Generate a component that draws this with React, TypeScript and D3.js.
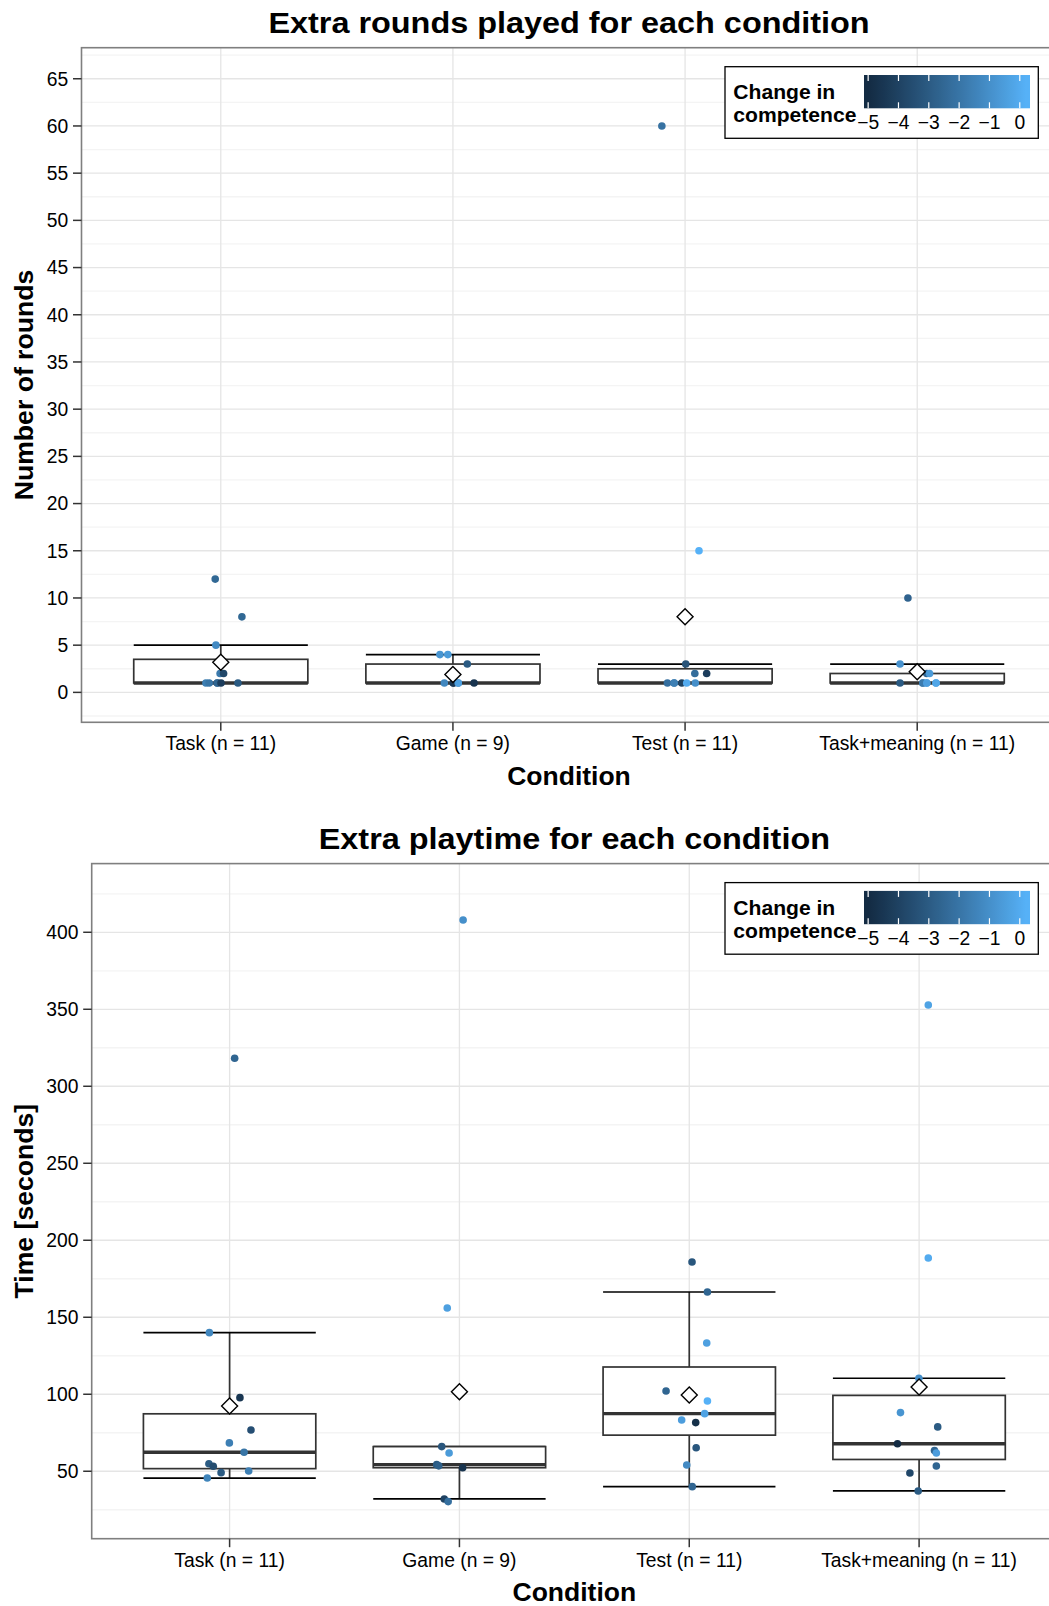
import React from "react";
import * as d3 from "d3";

// ---------- data ----------
const categories = ["Task (n = 11)", "Game (n = 9)", "Test (n = 11)", "Task+meaning (n = 11)"];

// Extra rounds played
const roundsTask = [12, 8, 5, 2, 2, 1, 1, 1, 1, 1, 1];
const roundsTaskCompetence = [-2.5, -2.5, -1.2, -1.8, -3.8, -2.4, -1.6, -2.0, -2.6, -4.2, -3.0];
const roundsTaskJitter = [-0.024, 0.091, -0.021, -0.003, 0.012, -0.015, -0.064, -0.05, -0.015, 0.001, 0.074];

const roundsGame = [4, 4, 3, 1, 1, 1, 1, 1, 1];
const roundsGameCompetence = [-0.8, -0.6, -3.0, -3.5, -2.0, -1.3, -4.5, -0.4, -4.6];
const roundsGameJitter = [-0.056, -0.022, 0.062, 0.002, 0.023, -0.037, 0.002, 0.023, 0.091];

const roundsTest = [60, 15, 3, 2, 2, 1, 1, 1, 1, 1, 1];
const roundsTestCompetence = [-2.1, 0.2, -3.3, -2.3, -4.2, -2.0, -2.2, -1.6, -4.0, 0.0, -1.0];
const roundsTestJitter = [-0.1, 0.06, 0.003, 0.042, 0.093, -0.047, -0.076, -0.047, -0.014, 0.007, 0.044];

const roundsMeaning = [10, 3, 2, 2, 1, 1, 1, 1, 1, 1, 1];
const roundsMeaningCompetence = [-2.7, -0.9, -2.6, -0.6, -1.8, -0.5, -0.2, -3.0, -1.8, -0.5, -0.2];
const roundsMeaningJitter = [-0.04, -0.074, 0.041, 0.053, 0.024, 0.041, 0.081, -0.074, 0.024, 0.041, 0.081];

// Extra playtime [seconds]
const timeTask = [318.2, 140, 97.8, 76.8, 68.4, 62.3, 54.9, 53.2, 49.1, 50.2, 45.6];
const timeTaskCompetence = [-2.6, -1.3, -4.5, -3.5, -1.6, -2.0, -3.0, -3.6, -3.0, -1.6, -1.4];
const timeTaskJitter = [0.022, -0.088, 0.045, 0.093, -0.001, 0.063, -0.09, -0.071, -0.037, 0.083, -0.097];

const timeGame = [408, 156, 66, 61.9, 54.3, 53.5, 52.3, 32, 30.3];
const timeGameCompetence = [-1.0, -0.4, -3.2, -0.6, -3.0, -2.8, -4.6, -4.0, -2.2];
const timeGameJitter = [0.016, -0.053, -0.077, -0.045, -0.099, -0.09, 0.014, -0.066, -0.049];

const timeTest = [185.9, 166.4, 133.3, 102.1, 95.6, 87.4, 83.3, 81.6, 65.3, 54.1, 40.0];
const timeTestCompetence = [-3.2, -2.6, -0.4, -2.6, 0.2, -0.3, -0.5, -4.8, -3.2, -1.2, -2.6];
const timeTestJitter = [0.012, 0.079, 0.076, -0.101, 0.079, 0.067, -0.033, 0.028, 0.03, -0.011, 0.013];

const timeMeaning = [352.8, 188.5, 110.4, 88.1, 78.8, 67.9, 63.4, 61.9, 53.4, 48.9, 37.2];
const timeMeaningCompetence = [-0.3, 0.0, -1.0, -0.8, -3.0, -5.0, -2.6, -0.5, -2.6, -3.8, -3.0];
const timeMeaningJitter = [0.04, 0.04, -0.001, -0.081, 0.081, -0.094, 0.067, 0.075, 0.075, -0.04, -0.004];

const roundsTicks = [0, 5, 10, 15, 20, 25, 30, 35, 40, 45, 50, 55, 60, 65];
const timeTicks = [50, 100, 150, 200, 250, 300, 350, 400];
const legendTicks = [-5, -4, -3, -2, -1, 0];
const colorLimits = [-5, 0.2];

// ---------- styling ----------
const FONT = "'Liberation Sans', Arial, Helvetica, sans-serif";
const lowColor = "#132B43";
const highColor = "#56B1F7";
const TICK_FS = 19.3;

const colorScale = d3
  .scaleLinear<string>()
  .domain(colorLimits)
  .range([lowColor, highColor])
  .interpolate(d3.interpolateLab)
  .clamp(true);

function makeGroups(vals: number[][], comps: number[][], jits: number[][]) {
  return vals.map((v, i) => ({ values: v, competence: comps[i], jitter: jits[i] }));
}

const roundsGroups = makeGroups(
  [roundsTask, roundsGame, roundsTest, roundsMeaning],
  [roundsTaskCompetence, roundsGameCompetence, roundsTestCompetence, roundsMeaningCompetence],
  [roundsTaskJitter, roundsGameJitter, roundsTestJitter, roundsMeaningJitter]
);
const timeGroups = makeGroups(
  [timeTask, timeGame, timeTest, timeMeaning],
  [timeTaskCompetence, timeGameCompetence, timeTestCompetence, timeMeaningCompetence],
  [timeTaskJitter, timeGameJitter, timeTestJitter, timeMeaningJitter]
);

function boxStats(values: number[]) {
  const s = values.slice().sort(d3.ascending);
  const q1 = d3.quantile(s, 0.25)!;
  const med = d3.quantile(s, 0.5)!;
  const q3 = d3.quantile(s, 0.75)!;
  const iqr = q3 - q1;
  const lo = d3.min(s.filter((v) => v >= q1 - 1.5 * iqr))!;
  const hi = d3.max(s.filter((v) => v <= q3 + 1.5 * iqr))!;
  return { q1, med, q3, lo, hi, mean: d3.mean(s)! };
}

type PanelCfg = {
  id: string;
  left: number;
  right: number;
  top: number;
  bottom: number;
  yDomain: [number, number];
  yTicks: number[];
  minorStep: number;
  groups: { values: number[]; competence: number[]; jitter: number[] }[];
  title: string;
  yLabel: string;
};

function Legend({ left, top, id }: { left: number; top: number; id: string }) {
  const barL = left + 139;
  const barR = left + 305;
  const nbin = 20;
  const half = ((barR - barL) / nbin) * 0.5;
  const bx = d3.scaleLinear().domain(colorLimits).range([barL + half, barR - half]);
  const barTop = top + 8.3;
  const barBot = top + 41.6;
  const stops = d3.range(0, 41).map((i) => {
    const t = i / 40;
    const px = barL + t * (barR - barL);
    return { offset: t, color: colorScale(bx.invert(px)) };
  });
  return (
    <g>
      <defs>
        <linearGradient id={`grad-${id}`} x1="0" x2="1" y1="0" y2="0">
          {stops.map((s, i) => (
            <stop key={i} offset={s.offset} stopColor={s.color} />
          ))}
        </linearGradient>
      </defs>
      <rect x={left} y={top} width={313.3} height={71.6} fill="white" stroke="black" strokeWidth={1.3} />
      <text x={left + 8.3} y={top + 32.6} fontFamily={FONT} fontWeight="bold" fontSize={21.1} fill="black">
        Change in
      </text>
      <text x={left + 8.3} y={top + 55} fontFamily={FONT} fontWeight="bold" fontSize={21.1} fill="black">
        competence
      </text>
      <rect x={barL} y={barTop} width={barR - barL} height={barBot - barTop} fill={`url(#grad-${id})`} />
      {legendTicks.map((t) => (
        <g key={t}>
          <line x1={bx(t)} x2={bx(t)} y1={barTop} y2={barTop + 6} stroke="white" strokeWidth={1.2} />
          <line x1={bx(t)} x2={bx(t)} y1={barBot - 6} y2={barBot} stroke="white" strokeWidth={1.2} />
          <text x={bx(t)} y={top + 62.6} textAnchor="middle" fontFamily={FONT} fontSize={TICK_FS} fill="black">
            {t < 0 ? `\u2212${Math.abs(t)}` : `${t}`}
          </text>
        </g>
      ))}
    </g>
  );
}

function Panel({ cfg }: { cfg: PanelCfg }) {
  const { left, right, top, bottom, yDomain, yTicks, minorStep, groups, title, yLabel, id } = cfg;
  const x = d3.scaleLinear().domain([0.4, 4.6]).range([left, right]);
  const y = d3.scaleLinear().domain(yDomain).range([bottom, top]);
  const bw = 0.75;
  const minor = d3
    .range(yTicks[0] - minorStep * 0.5 - minorStep * 2, yDomain[1], minorStep)
    .filter((v) => v > yDomain[0] && v < yDomain[1] && !yTicks.includes(v));
  const cx = (left + right) / 2;
  const cy = (top + bottom) / 2;
  return (
    <g>
      {/* panel background and grid */}
      <rect x={left} y={top} width={right - left} height={bottom - top} fill="white" />
      {minor.map((v) => (
        <line key={`mn${v}`} x1={left} x2={right} y1={y(v)} y2={y(v)} stroke="#f4f4f4" strokeWidth={1.3} />
      ))}
      {yTicks.map((v) => (
        <line key={`mj${v}`} x1={left} x2={right} y1={y(v)} y2={y(v)} stroke="#e5e5e5" strokeWidth={1.3} />
      ))}
      {categories.map((c, i) => (
        <line key={`vx${c}`} x1={x(i + 1)} x2={x(i + 1)} y1={top} y2={bottom} stroke="#e5e5e5" strokeWidth={1.3} />
      ))}

      {/* boxplots */}
      {groups.map((g, i) => {
        const s = boxStats(g.values);
        const x0 = x(i + 1 - bw / 2);
        const x1 = x(i + 1 + bw / 2);
        const xc = x(i + 1);
        return (
          <g key={`box${i}`}>
            <line x1={xc} x2={xc} y1={y(s.hi)} y2={y(s.q3)} stroke="#333" strokeWidth={1.7} />
            <line x1={xc} x2={xc} y1={y(s.q1)} y2={y(s.lo)} stroke="#333" strokeWidth={1.7} />
            <line x1={x0} x2={x1} y1={y(s.hi)} y2={y(s.hi)} stroke="black" strokeWidth={1.7} />
            <line x1={x0} x2={x1} y1={y(s.lo)} y2={y(s.lo)} stroke="black" strokeWidth={1.7} />
            <rect x={x0} y={y(s.q3)} width={x1 - x0} height={Math.max(0, y(s.q1) - y(s.q3))} fill="white" stroke="#333" strokeWidth={1.7} />
            <line x1={x0} x2={x1} y1={y(s.med)} y2={y(s.med)} stroke="#333" strokeWidth={3.4} />
          </g>
        );
      })}

      {/* jittered points */}
      {groups.map((g, i) =>
        g.values.map((v, j) => (
          <circle key={`p${i}-${j}`} cx={x(i + 1 + g.jitter[j])} cy={y(v)} r={3.8} fill={colorScale(g.competence[j])} />
        ))
      )}

      {/* means */}
      {groups.map((g, i) => {
        const m = d3.mean(g.values)!;
        const xc = x(i + 1);
        const yc = y(m);
        const h = 8;
        return (
          <path
            key={`m${i}`}
            d={`M${xc},${yc - h}L${xc + h},${yc}L${xc},${yc + h}L${xc - h},${yc}Z`}
            fill="white"
            stroke="black"
            strokeWidth={1.4}
          />
        );
      })}

      {/* panel border */}
      <rect x={left} y={top} width={right - left} height={bottom - top} fill="none" stroke="#7f7f7f" strokeWidth={1.6} />

      {/* y axis */}
      {yTicks.map((v) => (
        <g key={`yt${v}`}>
          <line x1={left - 8.5} x2={left} y1={y(v)} y2={y(v)} stroke="#333" strokeWidth={1.5} />
          <text x={left - 13.2} y={y(v)} dy="0.355em" textAnchor="end" fontFamily={FONT} fontSize={TICK_FS} fill="black">
            {v}
          </text>
        </g>
      ))}
      {/* x axis */}
      {categories.map((c, i) => (
        <g key={`xt${c}`}>
          <line x1={x(i + 1)} x2={x(i + 1)} y1={bottom} y2={bottom + 8.5} stroke="#333" strokeWidth={1.5} />
          <text x={x(i + 1)} y={bottom + 27.8} textAnchor="middle" fontFamily={FONT} fontSize={TICK_FS} fill="black">
            {c}
          </text>
        </g>
      ))}

      <text x={cx} y={bottom + 62.7} textAnchor="middle" fontFamily={FONT} fontWeight="bold" fontSize={26.5} fill="black">
        Condition
      </text>
      <text
        transform={`translate(33.3, ${cy}) rotate(-90)`}
        textAnchor="middle"
        fontFamily={FONT}
        fontWeight="bold"
        fontSize={26.6}
        fill="black"
      >
        {yLabel}
      </text>
      <text
        transform={`translate(${cx}, ${top - 14.3}) scale(1.08, 1)`}
        textAnchor="middle"
        fontFamily={FONT}
        fontWeight="bold"
        fontSize={30}
        fill="black"
      >
        {title}
      </text>

      <Legend left={725} top={top + 19} id={id} />
    </g>
  );
}

const roundsCfg: PanelCfg = {
  id: "rounds",
  left: 81.5,
  right: 1056.5,
  top: 47.7,
  bottom: 722.3,
  yDomain: [-3.17, 68.29],
  yTicks: roundsTicks,
  minorStep: 5,
  groups: roundsGroups,
  title: "Extra rounds played for each condition",
  yLabel: "Number of rounds",
};

const timeCfg: PanelCfg = {
  id: "time",
  left: 91.7,
  right: 1057,
  top: 863.6,
  bottom: 1538.7,
  yDomain: [6.2, 444.6],
  yTicks: timeTicks,
  minorStep: 50,
  groups: timeGroups,
  title: "Extra playtime for each condition",
  yLabel: "Time [seconds]",
};

export default function App() {
  return (
    <div style={{ position: "absolute", left: 0, top: 0, width: 1049, height: 1606, background: "white" }}>
      <svg width={1049} height={1606} viewBox="0 0 1049 1606" style={{ display: "block" }}>
        <rect x={0} y={0} width={1049} height={1606} fill="white" />
        <Panel cfg={roundsCfg} />
        <Panel cfg={timeCfg} />
      </svg>
    </div>
  );
}
